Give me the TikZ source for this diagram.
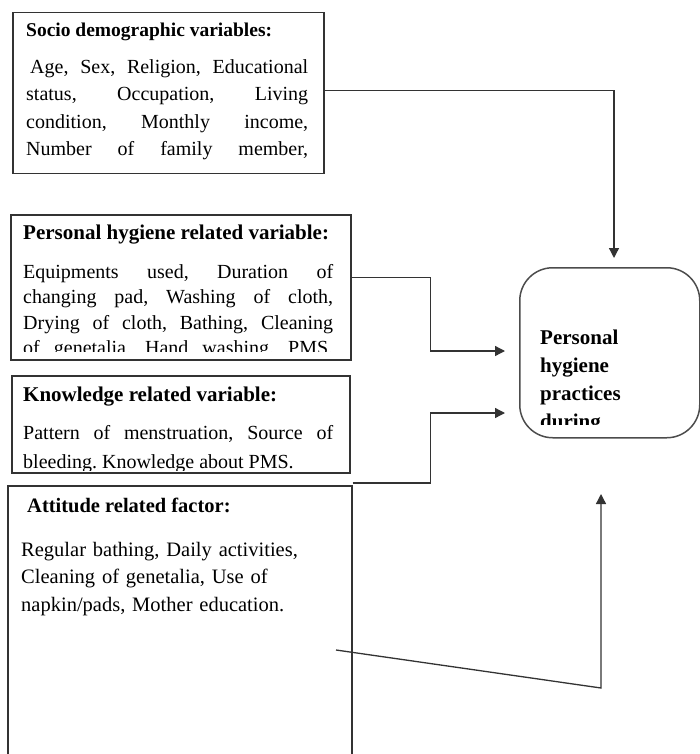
\documentclass[tikz,border=0pt]{standalone}
\usepackage{fontspec}
\setmainfont{Liberation Serif}
\usetikzlibrary{arrows.meta}
\frenchspacing
\tikzset{
	frame/.style={draw=black!80, line width=1.5pt, inner sep=0pt, anchor=north west},
	head/.style={inner sep=0pt, anchor=base west, font=\fontsize{21}{24}\selectfont\bfseries},
	body/.style={inner sep=0pt, anchor=base west, align=justify},
	conn/.style={draw=black!80, line width=1.3pt, -{Triangle[length=10pt,width=10pt]}},
}

\begin{document}
\begin{tikzpicture}[x=1pt, y=-1pt]
		%%%%% START %%%%%
		\useasboundingbox (0, 0) rectangle (700, 754);
		\clip (0, 0) rectangle (700, 754);
		
		% socio demographic
		\node[frame, minimum width=311pt, minimum height=161pt] (socio) at (12, 12) {};
		\node[head, font=\fontsize{19.5}{24}\selectfont\bfseries] (sociohead) at (26, 37) {Socio demographic variables:};
		\node[body, text width=282pt, font=\fontsize{20}{27.3}\selectfont] (sociobody) at (26, 73.5) {\parfillskip=0pt\relax\hspace*{4pt}Age, Sex, Religion, Educational\linebreak status, Occupation, Living\linebreak condition, Monthly income,\linebreak Number of family member,\par};
		
		% personal hygiene
		\node[frame, minimum width=340pt, minimum height=145pt] (hyg) at (10, 214) {};
		\node[head] (hyghead) at (23, 239) {Personal hygiene related variable:};
		\begin{scope}
			\clip (12, 216) rectangle (348, 351.5);
			\node[body, text width=310pt, font=\fontsize{20}{25.5}\selectfont] (hygbody) at (23, 278) {\parfillskip=0pt\relax Equipments used, Duration of\linebreak changing pad, Washing of cloth,\linebreak Drying of cloth, Bathing, Cleaning\linebreak of genetalia, Hand washing, PMS,\par};
		\end{scope}
		
		% knowledge
		\node[frame, minimum width=338pt, minimum height=97pt] (know) at (11, 375) {};
		\node[head] (knowhead) at (23, 401) {Knowledge related variable:};
		\begin{scope}
			\clip (12, 377) rectangle (348, 470.5);
			\node[body, text width=310pt, font=\fontsize{20}{29}\selectfont] (knowbody) at (23, 439) {Pattern of menstruation, Source of\linebreak bleeding. Knowledge about PMS.};
		\end{scope}
		
		% attitude
		\node[frame, minimum width=344pt, minimum height=275pt] (att) at (7, 485) {};
		\node[head, font=\fontsize{20.5}{24}\selectfont\bfseries] (atthead) at (27, 512) {Attitude related factor:};
		\node[body, align=left, text width=320pt, font=\fontsize{20.5}{27.5}\selectfont] (attbody) at (21, 556) {Regular bathing, Daily activities,\\Cleaning of genetalia, Use of\\napkin/pads, Mother education.};
		
		% practices
		\node[frame, draw=black!70, rounded corners=33pt, minimum width=180pt, minimum height=170pt] (target) at (519, 267) {};
		\begin{scope}
			\clip (521, 269) rectangle (697, 424);
			\node[body, align=left, text width=150pt, font=\fontsize{21}{28}\selectfont\bfseries] (targettext) at (540, 344) {Personal\\hygiene\\practices\\during};
		\end{scope}
		
		% connectors
		\coordinate (tipA) at (614, 258);
		\coordinate (tipB) at (505, 351);
		\coordinate (tipC) at (505, 413);
		\coordinate (slantA) at (336, 650);
		\coordinate (bendD) at (601, 688);
		\coordinate (tipD) at (601, 494);
		\draw[conn] ([yshift=2.5pt]socio.east) -| (tipA);
		\draw[conn] ([yshift=9.5pt]hyg.east) -- ++(79, 0) |- (tipB);
		\draw[conn] ([yshift=2pt]att.north east) -- ++(78, 0) |- (tipC);
		\draw[conn] (slantA) -- (bendD) -- (tipD);
		
		%%%%% END %%%%%
\end{tikzpicture}
\end{document}
